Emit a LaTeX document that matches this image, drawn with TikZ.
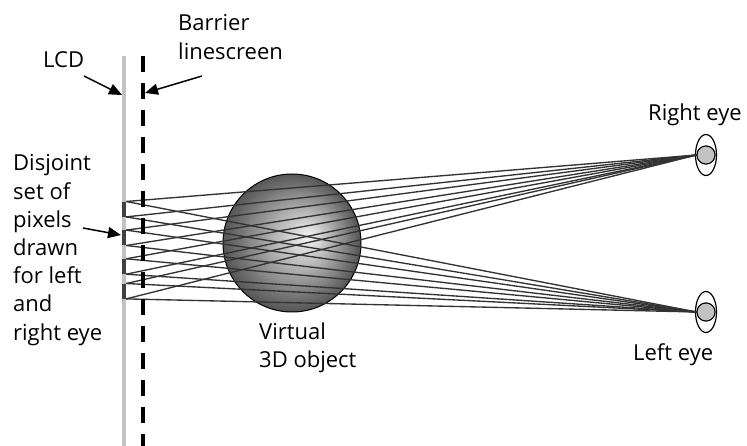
\documentclass[tikz,border=0pt]{standalone}
\usepackage{fontspec}
\setmainfont{Open Sans}
\usetikzlibrary{arrows.meta,shapes.geometric}

\definecolor{lcdgray}{gray}{0.76}
\definecolor{raygray}{gray}{0.2}
\definecolor{pixgray}{gray}{0.25}
\definecolor{pupilgray}{gray}{0.76}

\tikzset{
  txt/.style={anchor=base west, inner sep=0pt},
  pointer/.style={-{Triangle[length=13pt,width=11pt]}, line width=1.5pt},
  ray/.style={draw=raygray, line width=1.35pt},
  pixel/.style={fill=pixgray, minimum width=4pt, minimum height=15pt, inner sep=0pt},
  eyelid/.style={draw, ellipse, line width=1.2pt, minimum width=21pt, minimum height=41pt, inner sep=0pt},
  pupil/.style={draw, circle, fill=pupilgray, line width=1pt, minimum size=18pt, inner sep=0pt},
}

\begin{document}
\begin{tikzpicture}[x=1pt, y=-1pt, font=\fontsize{22}{28}\selectfont]
\useasboundingbox (0,0) rectangle (747,446);

% LCD panel and barrier line screen
\coordinate (lcdtop) at (123.5,56);
\coordinate (lcdbot) at (123.5,446);
\coordinate (bartop) at (143,56);
\coordinate (barbot) at (143,446);
\draw[lcdgray, line width=4pt] (lcdtop) -- (lcdbot);

% virtual object: nested discs drift toward the highlight and brighten
\foreach \k in {0,...,59} {
  \pgfmathsetmacro\t{\k/60}
  \pgfmathsetmacro\g{int(34+64*\t)}
  \fill[white!\g!black] (292+18*\t, 243-6*\t) circle[radius={69*(1-\t)}];
}
\node[circle, draw, line width=1pt, minimum size=138pt, inner sep=0pt] (obj) at (292,243) {};

% eyes
\node[eyelid] (rlid) at (706,155) {};
\node[eyelid] (llid) at (706,312) {};
\node[pupil] (reye) at (706,155) {};
\node[pupil] (leye) at (706,312) {};

% pixel groups on the LCD
\node[pixel] (p1) at (124,209.2) {};
\node[pixel] (p2) at (124,237.8) {};
\node[pixel] (p3) at (124,266.5) {};
\node[pixel] (p4) at (124,291.2) {};

% rays from each pixel edge to both eyes
\foreach \p in {1,...,4}
  \foreach \e in {reye,leye}
    \foreach \a in {north east,south east}
      \draw[ray] (p\p.\a) -- (\e.west);

\draw[line width=4.5pt, dash pattern=on 16pt off 11pt] (bartop) -- (barbot);

% redraw pupils over ray ends
\node[pupil] at (reye) {};
\node[pupil] at (leye) {};

% labels
\node[txt] (lcd) at (43,68) {LCD};
\node[txt] (bar1) at (178,31) {Barrier};
\node[txt] (bar2) at (178,60) {linescreen};
\foreach \t [count=\i from 0] in {Disjoint,set of,pixels,drawn,for left,and,right eye}
  \node[txt] (dis\i) at (13,171+28.2*\i) {\t};
\node[txt] (vir1) at (259,340) {Virtual};
\node[txt] (vir2) at (259,367) {3D object};
\node[txt] (rlab) at (648,121) {Right eye};
\node[txt] (llab) at (633,360) {Left eye};

% pointers
\coordinate (lcdfrom) at (84,76);
\coordinate (lcdto) at (122,95);
\coordinate (barfrom) at (202,76);
\coordinate (barto) at (145,93);
\coordinate (pixfrom) at (83,228);
\coordinate (pixto) at (121,235);
\draw[pointer] (lcdfrom) -- (lcdto);
\draw[pointer] (barfrom) -- (barto);
\draw[pointer] (pixfrom) -- (pixto);
\end{tikzpicture}
\end{document}
